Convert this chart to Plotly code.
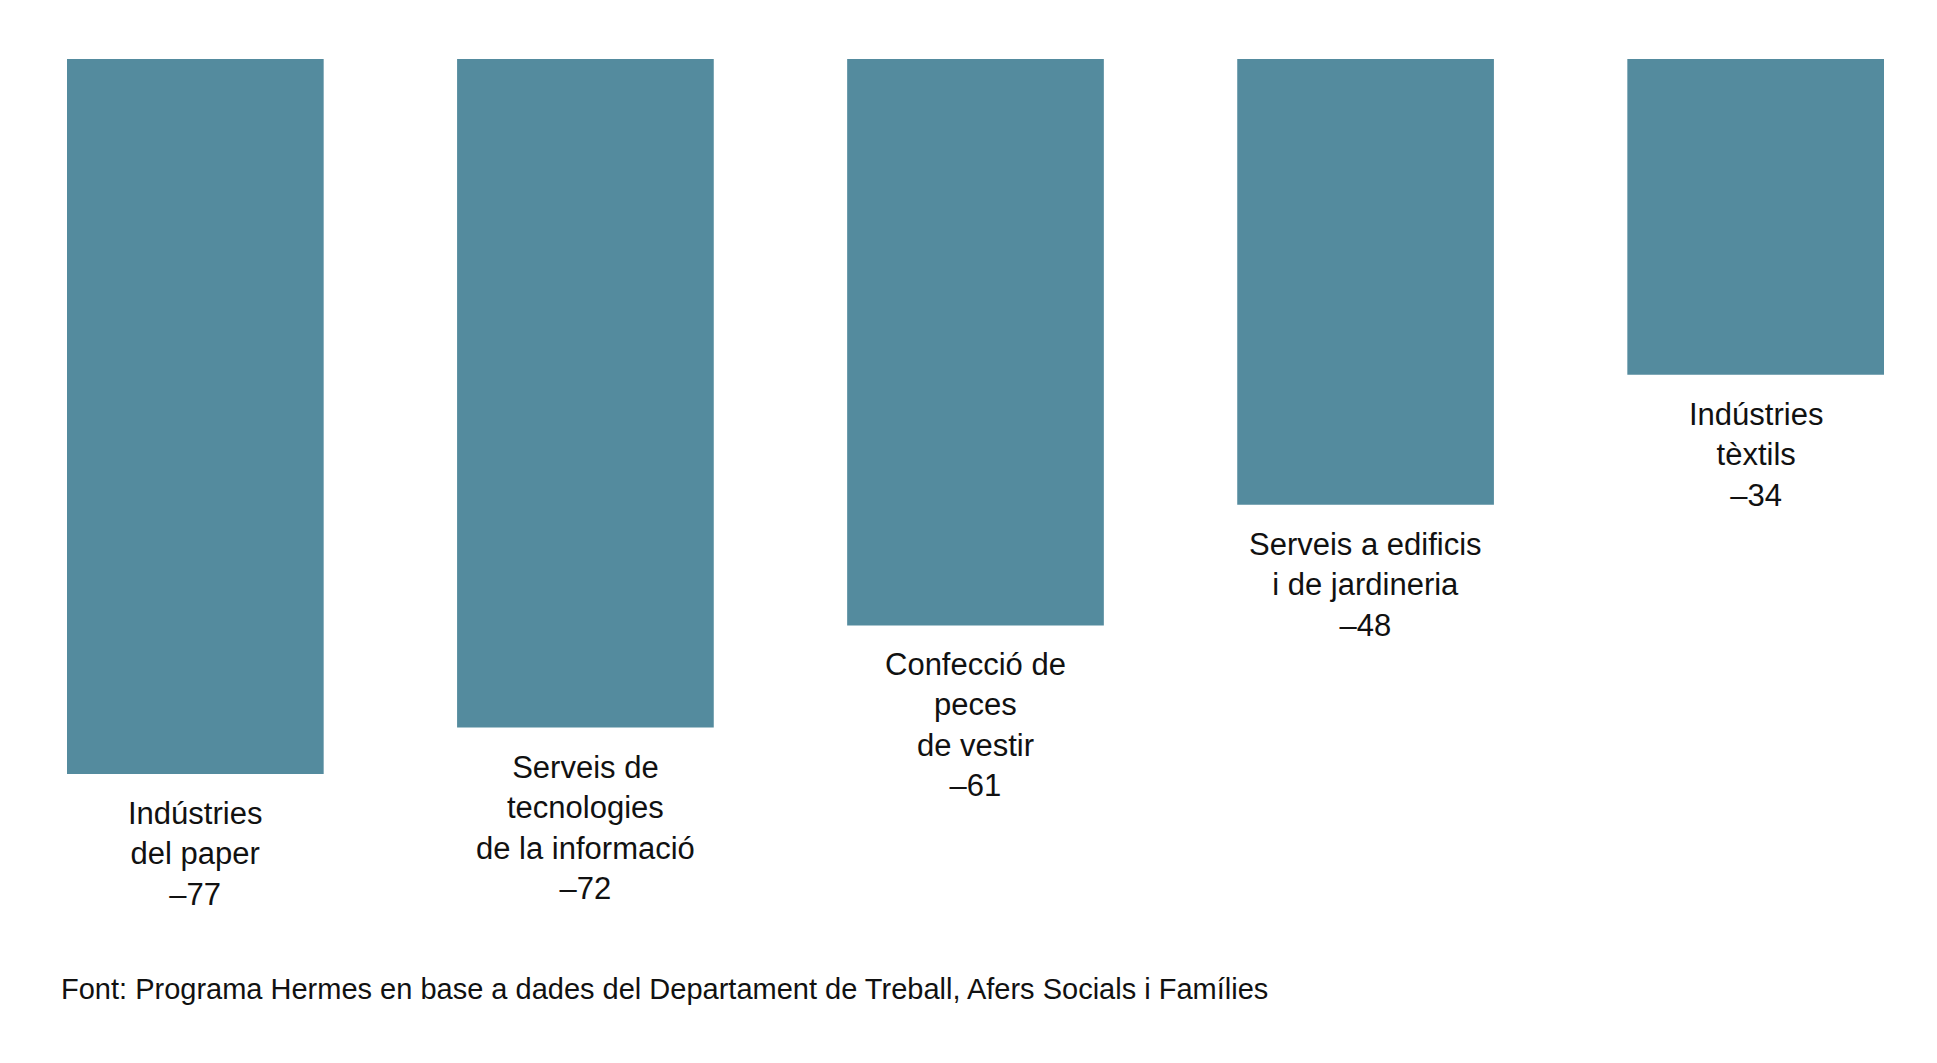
import plotly.graph_objects as go

categories = ["Indústries<br>del paper", "Serveis de<br>tecnologies<br>de la informació",
              "Confecció de<br>peces<br>de vestir", "Serveis a edificis<br>i de jardineria",
              "Indústries<br>tèxtils"]
values = [-77, -72, -61, -48, -34]
value_labels = ["–77", "–72", "–61", "–48", "–34"]
source = "Font: Programa Hermes en base a dades del Departament de Treball, Afers Socials i Famílies"

W, H = 1937, 1063
top, bottom = 51, 63
plot_h = H - top - bottom
px_per_unit = 715 / 77
bar_w = 0.658

fig = go.Figure(go.Bar(x=list(range(len(values))), y=values, marker_color="#548B9E",
                       marker_line_width=0, width=bar_w))

for i, (c, v, lab) in enumerate(zip(categories, values, value_labels)):
    fig.add_annotation(x=i, y=v, text=f"{c}<br>{lab}", showarrow=False,
                       yanchor="top", yshift=-20, font=dict(size=31, color="#111"))

fig.add_annotation(x=0, xref="paper", y=(plot_h - (981 - top)) / plot_h, yref="paper",
                   text=source, showarrow=False, xanchor="left", yanchor="middle",
                   xshift=-8, font=dict(size=29, color="#111"))

fig.update_layout(
    width=W, height=H, plot_bgcolor="white", paper_bgcolor="white",
    margin=dict(l=59, r=61, t=top, b=bottom),
    showlegend=False,
    font=dict(family="Liberation Sans, Arial, sans-serif"),
    xaxis=dict(visible=False, range=[-bar_w / 2, len(values) - 1 + bar_w / 2]),
    yaxis=dict(visible=False, range=[-plot_h / px_per_unit, 0]),
)

fig.write_html("out.html")
